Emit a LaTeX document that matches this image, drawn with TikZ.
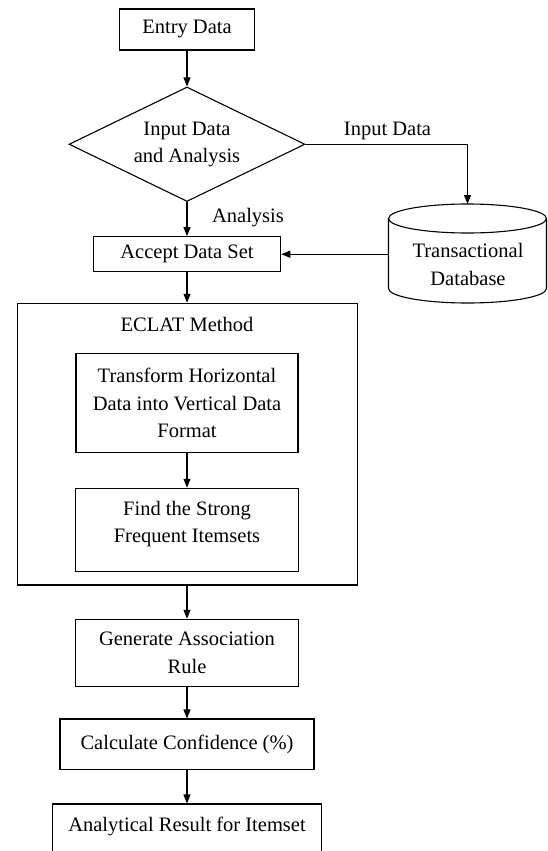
\documentclass[tikz,border=0pt]{standalone}
\usepackage{fontspec}
\setmainfont{Liberation Serif}
\usetikzlibrary{shapes.geometric,arrows.meta}
\begin{document}
\begin{tikzpicture}[x=1pt,y=-1pt,
  every node/.style={font=\fontsize{20.5}{27.5}\selectfont},
  box/.style={draw, line width=1.1pt, rectangle, inner sep=0pt, align=center},
  txt/.style={inner sep=0pt, align=center},
  dia/.style={draw, line width=1.1pt, diamond, aspect=2, inner sep=0pt, align=center},
  arr/.style={line width=1.1pt, -{Triangle[length=9pt,width=7pt]}},
  plain/.style={line width=1.1pt}]
\useasboundingbox (0,0) rectangle (548,851);
\clip (0,0) rectangle (548,851);

% main column
\node[box, minimum width=135pt, minimum height=41pt] (entry) at (187,29.5) {Entry Data};
\node[dia, minimum width=236pt, minimum height=114.5pt] (dec) at (187,144.25) {Input Data\\and Analysis};
\node[txt, anchor=base] (lin) at (387.5,135) {Input Data};
\node[txt, anchor=base] (lana) at (248,222) {Analysis};
\node[box, minimum width=187.5pt, minimum height=35pt] (accept) at (187,254.2) {Accept Data Set};

% database cylinder
\coordinate (dbtop) at (467.5,204);
\coordinate (dbleft) at (388.5,254.2);
\draw[plain] (388.5,218.5) -- (388.5,288.5)
  arc[start angle=180,end angle=360,x radius=79pt,y radius=14.5pt] -- (546.5,218.5);
\draw[plain] (467.5,218.5) ellipse[x radius=79pt,y radius=14.5pt];
\node[txt] (db) at (468,264.7) {Transactional\\Database};

% ECLAT group
\node[box, minimum width=340pt, minimum height=281.7pt] (eclat) at (187.3,444.15) {};
\node[txt, anchor=base] (eclatlbl) at (187,331) {ECLAT Method};
\node[box, minimum width=222pt, minimum height=99.4pt] (trans) at (187,403) {Transform Horizontal\\Data into Vertical Data\\Format};
\node[box, minimum width=222.3pt, minimum height=83.4pt] (find) at (187,530) {};
\node[txt] (findtxt) at (187,524) {Find the Strong\\Frequent Itemsets};

% lower steps
\node[box, minimum width=222.3pt, minimum height=67.4pt] (gen) at (187,653) {Generate Association\\Rule};
\node[box, minimum width=254pt, minimum height=50.3pt] (calc) at (187,744.15) {Calculate Confidence (\%)};
\node[box, minimum width=269pt, minimum height=76pt] (res) at (187,842) {};
\node[txt, anchor=base] (restxt) at (187,831.5) {Analytical Result for Itemset};

% connectors
\draw[arr] (entry.south) -- (dec.north);
\draw[arr] (dec.east) -| (dbtop);
\draw[arr] (dec.south) -- (accept.north);
\draw[arr] (dbleft) -- (accept.east);
\draw[arr] (accept.south) -- (accept.south |- eclat.north);
\draw[arr] (trans.south) -- (find.north);
\draw[arr] (eclat.south -| gen.north) -- (gen.north);
\draw[arr] (gen.south) -- (calc.north);
\draw[arr] (calc.south) -- (res.north);
\end{tikzpicture}
\end{document}
